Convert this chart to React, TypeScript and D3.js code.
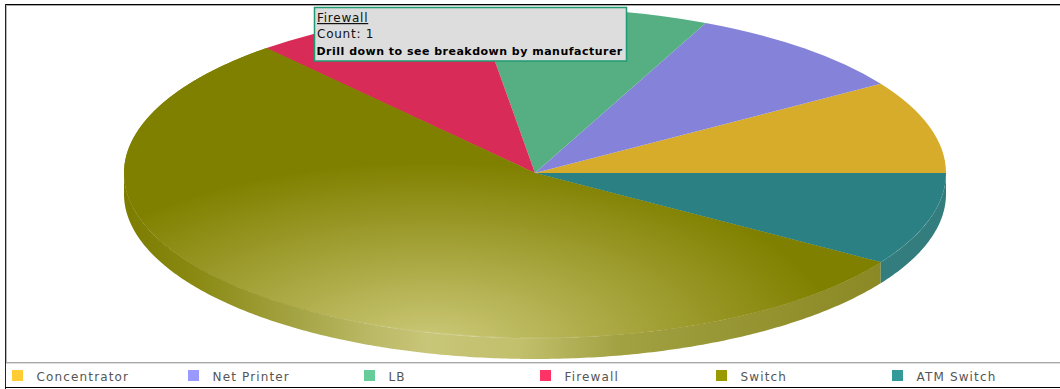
import React from "react";
import * as d3 from "d3";

const categories = ["Concentrator", "Net Printer", "LB", "Firewall", "Switch", "ATM Switch"];
const counts = [1, 1, 1, 1, 6, 1];
const topColors = ["#d6ac2a", "#8583d9", "#55af82", "#d92b57", "#808000", "#2a8083"];
const legendColors = ["#ffcc33", "#9999ff", "#66cc99", "#ff3366", "#999900", "#339999"];
const sideColors = ["#b8952a", "#7372bb", "#4c9873", "#b9294e", "#808000", "#347d7e"];
const sideStops: [number, string][] = [
  [0, "#7c7c00"],
  [0.09, "#8a8a14"],
  [0.215, "#a6a546"],
  [0.31, "#bdbb68"],
  [0.37, "#c8c678"],
  [0.48, "#c2c06c"],
  [0.6, "#a3a243"],
  [0.7, "#9a9938"],
  [0.82, "#92902c"],
  [0.92, "#8b8925"],
  [1, "#888622"],
];

const W = 1060;
const H = 389;
const cx = 535;
const cy = 173;
const rx = 411;
const ry = 165;
const depth = 21;
const font = "'DejaVu Sans', Verdana, sans-serif";

const pie = d3
  .pie<number>()
  .sort(null)
  .startAngle(Math.PI / 2)
  .endAngle(Math.PI / 2 - 2 * Math.PI);
const slices = pie(counts);
const arc = d3.arc<d3.PieArcDatum<number>>().innerRadius(0).outerRadius(rx);

const px = (a: number) => rx * Math.sin(a);
const py = (a: number) => -ry * Math.cos(a);

function frontAngles(a0: number, a1: number): number[] {
  const lo = Math.min(a0, a1);
  const hi = Math.max(a0, a1);
  return d3
    .range(lo, hi, 0.01)
    .concat(hi)
    .filter((a) => Math.cos(a) <= 0.001);
}

function wallPath(a0: number, a1: number): string | null {
  const front = frontAngles(a0, a1);
  if (!front.length) return null;
  const pts: [number, number][] = [];
  front.forEach((a) => pts.push([px(a), py(a)]));
  front
    .slice()
    .reverse()
    .forEach((a) => pts.push([px(a), py(a) + depth]));
  return d3.line()(pts) + "Z";
}

const xLegend = d3.scalePoint<string>().domain(categories).range([12, 892]);
const sw = slices[4];
const ellipseSlice =
  d3.line()(
    d3
      .range(sw.endAngle, sw.startAngle + 0.005, 0.005)
      .map((a) => [px(a), py(a)] as [number, number])
      .concat([[0, 0]])
  ) + "Z";
const rimLine = d3.line()(frontAngles(sw.startAngle, sw.endAngle).map((a) => [px(a), py(a)] as [number, number])) ?? "";

export default function App() {
  return (
    <svg
      width={W}
      height={H}
      viewBox={`0 0 ${W} ${H}`}
      style={{ position: "absolute", left: 0, top: 0, display: "block" }}
    >
      <defs>
        <radialGradient
          id="switchTop"
          gradientUnits="userSpaceOnUse"
          cx={0}
          cy={0}
          r={1}
          gradientTransform={`translate(${430 - cx} ${345 - cy}) scale(410 182)`}
        >
          <stop offset="0" stopColor="#cdca7a" />
          <stop offset="1" stopColor="#808000" />
        </radialGradient>
        <linearGradient id="switchSide" gradientUnits="userSpaceOnUse" x1={-rx} x2={rx} y1={0} y2={0}>
          {sideStops.map(([o, c]) => (
            <stop key={o} offset={o} stopColor={c} />
          ))}
        </linearGradient>
        <linearGradient id="rim" gradientUnits="userSpaceOnUse" x1={-rx} x2={rx} y1={0} y2={0}>
          <stop offset="0.22" stopColor="#ffffff" stopOpacity={0} />
          <stop offset="0.4" stopColor="#ffffff" stopOpacity={0.3} />
          <stop offset="0.62" stopColor="#ffffff" stopOpacity={0} />
        </linearGradient>
      </defs>
      <rect x={0} y={0} width={W} height={H} fill="#ffffff" />

      <g transform={`translate(${cx},${cy})`}>
        {slices.map((s, i) => {
          const d = wallPath(s.startAngle, s.endAngle);
          return d ? (
            <path key={`w${i}`} d={d} fill={categories[i] === "Switch" ? "url(#switchSide)" : sideColors[i]} />
          ) : null;
        })}
        {slices.map((s, i) => (
          <path
            key={`t${i}`}
            d={arc(s) ?? ""}
            transform={`scale(1 ${ry / rx})`}
            fill={topColors[i]}
          />
        ))}
        <path d={ellipseSlice} fill="url(#switchTop)" />
        <path d={rimLine} fill="none" stroke="url(#rim)" strokeWidth={1} />
      </g>

      {/* frame */}
      <line x1={5} x2={W} y1={4.5} y2={4.5} stroke="#000000" />
      <line x1={6} x2={W} y1={5.5} y2={5.5} stroke="#a8a8a8" />
      <line x1={5.5} x2={5.5} y1={4} y2={389} stroke="#222222" />
      <line x1={6.5} x2={6.5} y1={5} y2={362} stroke="#b8b8b8" />
      <line x1={6} x2={W} y1={362.5} y2={362.5} stroke="#a8a8a8" />
      <line x1={6} x2={W} y1={363.5} y2={363.5} stroke="#dddddd" />
      <line x1={5} x2={W} y1={387.5} y2={387.5} stroke="#000000" />

      {/* legend */}
      {categories.map((c, i) => {
        const x = xLegend(c) ?? 0;
        return (
          <g key={c}>
            <rect x={x} y={370} width={11} height={11} fill={legendColors[i]} />
            <text
              x={x + 24.5}
              y={381}
              fontFamily={font}
              fontSize={12}
              letterSpacing={1.15}
              fill="#555555"
            >
              {c}
            </text>
          </g>
        );
      })}

      {/* tooltip */}
      <rect x={314.5} y={7.5} width={312} height={53.5} fill="#dddddd" stroke="#1f9a73" strokeWidth={1.5} />
      <text x={317} y={22} fontFamily={font} fontSize={12} letterSpacing={0.75} fill="#111111" textDecoration="underline">
        Firewall
      </text>
      <text x={317} y={38} fontFamily={font} fontSize={12} letterSpacing={0.75} fill="#111111">
        Count: 1
      </text>
      <text x={316.5} y={55} fontFamily={font} fontSize={11} letterSpacing={0.49} fontWeight={700} fill="#000000">
        Drill down to see breakdown by manufacturer
      </text>
    </svg>
  );
}
